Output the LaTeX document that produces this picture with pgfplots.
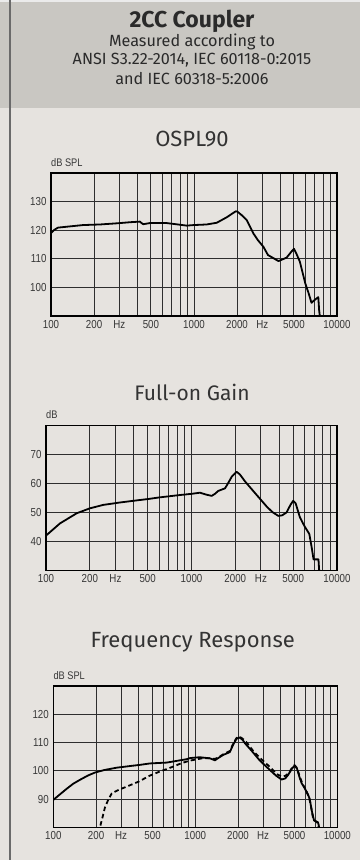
\documentclass[border=0pt]{standalone}
\usepackage{fontspec}
\setmainfont{Fira Sans}
\newfontfamily\tickfont[FakeStretch=0.84]{Liberation Sans}
\usepackage{pgfplots}
\pgfplotsset{compat=1.18}
\definecolor{hdr}{HTML}{C9C7C2}
\definecolor{bodybg}{HTML}{E6E3DF}
\definecolor{txt}{HTML}{2A2A2A}
\definecolor{ttl}{HTML}{333333}
\definecolor{tickc}{HTML}{383838}
\definecolor{gridc}{HTML}{2E2E2E}
\definecolor{vline}{HTML}{6A6A6A}

\pgfplotsset{
  every axis/.append style={
    scale only axis,
    xmode=log,
    xmin=100, xmax=10000,
    xtick={100,200,300,400,500,600,700,800,900,1000,2000,3000,4000,5000,6000,7000,8000,9000,10000},
    xticklabels={100,200,Hz,,500,,,,,1000,2000,Hz,,5000,,,,,10000},
    major tick length=0pt, minor tick length=0pt,
    xmajorgrids, ymajorgrids,
    major grid style={gridc, line width=1pt},
    axis line style={black, line width=1.1pt},
    tick label style={font=\tickfont\fontsize{11.6}{13}\selectfont, text=tickc},
    /pgf/number format/assume math mode=true,
    xticklabel style={yshift=-0.5pt},
    yticklabel style={xshift=-1pt},
  },
  curve/.style={black, line width=1.8pt, no markers, line join=round, line cap=round},
}

\begin{document}
\begin{tikzpicture}[x=1pt,y=1pt]
% backgrounds
\fill[bodybg] (0,0) rectangle (360,860);
\fill[hdr] (0,752) rectangle (360,858);
\fill[white!92!black] (0,858) rectangle (360,860);
\draw[vline, line width=1.3pt] (10,0) -- (10,860);

% header text
\node[txt, font=\bfseries\fontsize{23}{26}\selectfont] at (192,839) {2CC Coupler};
\node[txt, font=\fontsize{16.2}{18}\selectfont] at (192,818) {Measured according to};
\node[txt, font=\fontsize{16.2}{18}\selectfont] at (192,800) {ANSI S3.22-2014, IEC 60118-0:2015};
\node[txt, font=\fontsize{16.2}{18}\selectfont] at (192,781.5) {and IEC 60318-5:2006};

% titles
\node[ttl, font=\fontsize{22}{26}\selectfont] at (192,721) {OSPL90};
\node[ttl, font=\fontsize{21}{26}\selectfont] at (192,468) {Full-on Gain};
\node[ttl, font=\fontsize{22}{26}\selectfont] at (192.7,218) {Frequency Response};

% unit labels
\node[tickc, anchor=west, inner sep=0pt, font=\tickfont\fontsize{11}{12}\selectfont] at (51,697) {dB SPL};
\node[tickc, anchor=west, inner sep=0pt, font=\tickfont\fontsize{11}{12}\selectfont] at (46,445) {dB};
\node[tickc, anchor=west, inner sep=0pt, font=\tickfont\fontsize{11}{12}\selectfont] at (53.3,184) {dB SPL};

% OSPL90
\begin{axis}[at={(51pt,544pt)}, anchor=south west, width=286pt, height=143pt,
  ymin=90, ymax=140, ytick={100,110,120,130}]
\addplot[curve] coordinates {
(100,119.0) (106,120.2) (112,120.9) (128,121.2) (168,121.8) (220,122.0)
(288,122.4) (360,122.8) (419,123.0) (432,122.4) (442,122.1) (493,122.5)
(643,122.5) (800,121.9) (889,121.6) (1000,121.8) (1226,122.0) (1442,122.6)
(1692,124.5) (1850,125.8) (1960,126.6) (2010,126.5) (2150,125.3) (2332,123.6)
(2598,118.9) (2800,116.5) (3056,114.2) (3293,111.3) (3600,110.2) (3896,109.2)
(4439,110.4) (4800,112.5) (5000,113.5) (5200,111.8) (5497,109.0) (6000,101.4)
(6337,97.9) (6630,94.6) (6900,95.4) (7400,96.6) (7500,92.0) (7670,88.0)
};
\end{axis}

% Full-on Gain
\begin{axis}[at={(46pt,289.3pt)}, anchor=south west, width=291pt, height=145pt,
  ymin=30, ymax=80, ytick={40,50,60,70}]
\addplot[curve] coordinates {
(100,42.1) (124.7,46.3) (162.5,49.8) (200,51.5) (248,52.7) (320,53.5) (398,54.1)
(500,54.7) (608,55.3) (834,56.1) (1000,56.5) (1144,56.9) (1250,56.3) (1375,55.8)
(1450,56.5) (1525,57.5) (1700,58.4) (1800,60.5) (1890,62.4) (2040,64.1) (2150,63.2)
(2340,60.7) (2740,56.7) (3290,52.1) (3600,50.2) (3950,48.9) (4200,49.1) (4500,50.1)
(4800,52.8) (5000,54.1) (5200,53.2) (5560,48.4) (6000,45.2) (6450,42.7) (6700,38.0)
(6900,33.9) (7460,33.9) (7520,31.0) (7600,28.0)
};
\end{axis}

% Frequency Response
\begin{axis}[at={(53.3pt,32.7pt)}, anchor=south west, width=284pt, height=141.3pt,
  ymin=80, ymax=130, ytick={90,100,110,120}]
\addplot[curve] coordinates {
(100,89.7) (124,93.6) (138,95.4) (154,96.8) (175,98.3) (197,99.4) (230,100.3)
(280,101.1) (350,101.7) (408,102.1) (479,102.6) (628,102.9) (700,103.3) (870,104.1)
(917,104.5) (1075,104.8) (1268,104.4) (1375,103.7) (1450,104.5) (1570,105.6)
(1750,106.6) (1850,109.3) (1950,111.3) (2040,111.8) (2150,111.0) (2240,109.7)
(2500,107.0) (2850,103.6) (3380,100.1) (3700,98.3) (4050,96.9) (4300,97.3)
(4500,98.5) (4800,100.8) (5000,101.8) (5200,100.8) (5450,97.3) (5610,95.6) (5900,93.8)
(6250,91.3) (6400,90.0) (6600,86.0) (6860,82.4) (7300,81.8) (7400,80.8) (7520,78.0)
};
\addplot[curve, line cap=butt, dash pattern=on 4.5pt off 3pt] coordinates {
(210,78.0) (213,80.0) (222,83.5) (231,87.0) (244,89.8) (258,92.0) (290,93.3)
(329,94.4) (400,96.2) (479,98.3) (560,99.7) (628,100.6) (700,101.5) (800,102.7)
(917,103.6) (1140,104.5) (1268,104.4) (1375,104.2) (1450,104.7) (1570,105.8)
(1750,107.0) (1850,109.6) (1950,111.6) (2040,112.1) (2150,111.4) (2300,110.0)
(2560,107.0) (2900,104.2) (3380,101.2) (3750,98.8) (4050,98.0) (4300,98.2)
(4500,99.0) (4800,101.0) (5000,102.0) (5200,101.0) (5450,97.8) (5700,95.3)
(6000,93.3) (6300,90.8) (6500,88.0) (6770,82.8) (7200,81.8) (7350,81.0) (7480,78.0)
};
\end{axis}

\pgfresetboundingbox
\path (0,0) rectangle (360,860);
\end{tikzpicture}
\end{document}
